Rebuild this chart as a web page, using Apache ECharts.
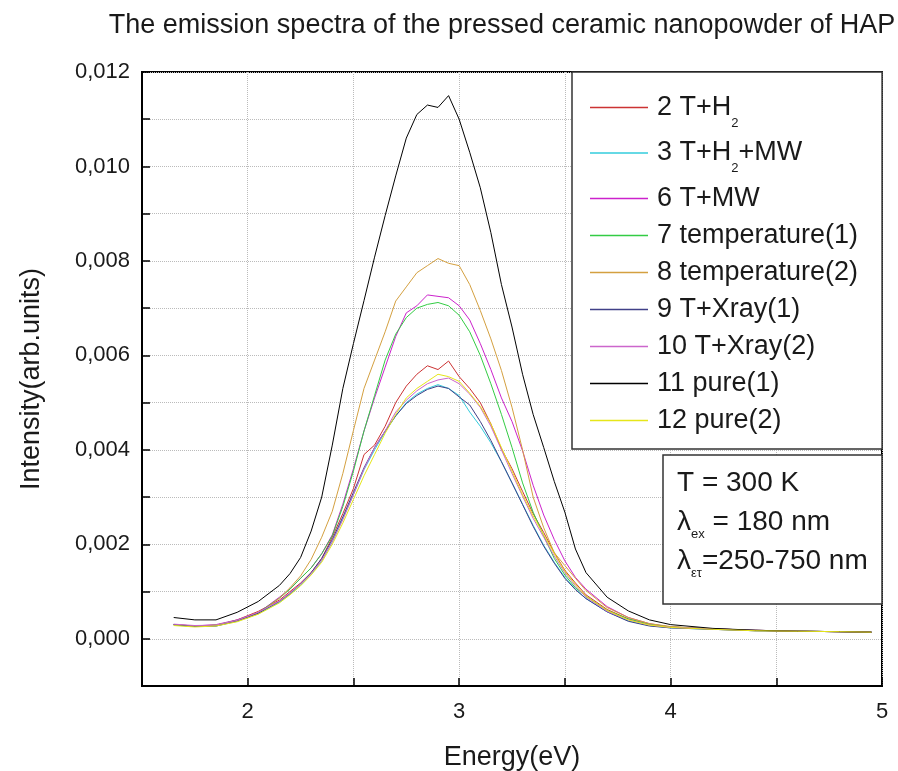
<!DOCTYPE html>
<html>
<head>
<meta charset="utf-8">
<script src="https://cdn.jsdelivr.net/npm/echarts@6/dist/echarts.min.js"></script>
<style>html,body{margin:0;padding:0;background:#fff}#c{width:898px;height:771px}</style>
</head>
<body>
<div id="c"></div>
<script>
const energy = [1.65,1.75,1.85,1.95,2.05,2.15,2.2,2.25,2.3,2.35,2.4,2.45,2.5,2.55,2.6,2.65,2.7,2.75,2.8,2.85,2.9,2.95,3.0,3.05,3.1,3.15,3.2,3.25,3.3,3.35,3.4,3.45,3.5,3.55,3.6,3.7,3.8,3.9,4.0,4.2,4.4,4.6,4.8,4.95];

const s2_TH2 = [0.00030,0.00027,0.00028,0.00040,0.00058,0.00082,0.00100,0.00118,0.00140,0.00170,0.00215,0.00265,0.00318,0.00390,0.00410,0.00450,0.00500,0.00535,0.00560,0.00578,0.00570,0.00588,0.00555,0.00530,0.00500,0.00455,0.00402,0.00360,0.00312,0.00265,0.00225,0.00182,0.00145,0.00118,0.00093,0.00062,0.00042,0.00030,0.00025,0.00021,0.00018,0.00016,0.00015,0.00014];
const s3_TH2MW = [0.00029,0.00026,0.00027,0.00037,0.00053,0.00077,0.00094,0.00113,0.00136,0.00165,0.00205,0.00255,0.00305,0.00358,0.00400,0.00438,0.00472,0.00500,0.00518,0.00530,0.00538,0.00530,0.00515,0.00480,0.00450,0.00415,0.00375,0.00330,0.00285,0.00240,0.00198,0.00162,0.00130,0.00105,0.00085,0.00057,0.00038,0.00028,0.00023,0.00020,0.00017,0.00016,0.00015,0.00014];
const s6_TMW = [0.00030,0.00027,0.00030,0.00040,0.00055,0.00088,0.00106,0.00128,0.00150,0.00180,0.00220,0.00285,0.00360,0.00440,0.00510,0.00575,0.00640,0.00690,0.00705,0.00728,0.00725,0.00722,0.00705,0.00675,0.00625,0.00570,0.00510,0.00460,0.00398,0.00325,0.00262,0.00210,0.00165,0.00130,0.00105,0.00068,0.00045,0.00032,0.00025,0.00021,0.00018,0.00016,0.00015,0.00014];
const s7_temp1 = [0.00030,0.00026,0.00029,0.00039,0.00055,0.00086,0.00105,0.00128,0.00150,0.00180,0.00218,0.00280,0.00355,0.00440,0.00515,0.00590,0.00645,0.00680,0.00700,0.00708,0.00712,0.00705,0.00685,0.00650,0.00600,0.00540,0.00475,0.00405,0.00330,0.00268,0.00218,0.00170,0.00135,0.00108,0.00090,0.00060,0.00042,0.00031,0.00025,0.00021,0.00018,0.00016,0.00015,0.00014];
const s8_temp2 = [0.00030,0.00027,0.00029,0.00038,0.00053,0.00086,0.00108,0.00133,0.00168,0.00215,0.00270,0.00350,0.00441,0.00530,0.00590,0.00650,0.00715,0.00745,0.00775,0.00790,0.00805,0.00795,0.00790,0.00750,0.00695,0.00635,0.00568,0.00490,0.00400,0.00300,0.00235,0.00182,0.00155,0.00128,0.00102,0.00066,0.00045,0.00032,0.00026,0.00020,0.00017,0.00016,0.00015,0.00014];
const s9_Xray1 = [0.00030,0.00026,0.00027,0.00038,0.00054,0.00079,0.00096,0.00116,0.00140,0.00170,0.00210,0.00258,0.00310,0.00362,0.00405,0.00440,0.00472,0.00498,0.00515,0.00528,0.00535,0.00530,0.00512,0.00495,0.00460,0.00420,0.00375,0.00330,0.00284,0.00238,0.00196,0.00160,0.00128,0.00104,0.00085,0.00057,0.00037,0.00027,0.00023,0.00020,0.00017,0.00016,0.00015,0.00014];
const s10_Xray2 = [0.00031,0.00028,0.00029,0.00039,0.00056,0.00080,0.00097,0.00116,0.00138,0.00166,0.00205,0.00252,0.00305,0.00360,0.00405,0.00440,0.00480,0.00505,0.00525,0.00540,0.00548,0.00552,0.00540,0.00518,0.00490,0.00450,0.00400,0.00350,0.00302,0.00255,0.00215,0.00175,0.00140,0.00112,0.00088,0.00058,0.00040,0.00029,0.00024,0.00021,0.00018,0.00016,0.00015,0.00014];
const s11_pure1 = [0.00045,0.00040,0.00040,0.00056,0.00079,0.00113,0.00138,0.00172,0.00228,0.00300,0.00410,0.00530,0.00625,0.00716,0.00808,0.00896,0.00980,0.01060,0.01110,0.01130,0.01125,0.01150,0.01100,0.01030,0.00955,0.00860,0.00750,0.00660,0.00560,0.00475,0.00405,0.00333,0.00268,0.00190,0.00140,0.00088,0.00059,0.00040,0.00030,0.00022,0.00018,0.00016,0.00015,0.00014];
const s12_pure2 = [0.00028,0.00025,0.00027,0.00036,0.00052,0.00076,0.00093,0.00112,0.00135,0.00162,0.00200,0.00245,0.00295,0.00345,0.00390,0.00435,0.00475,0.00510,0.00530,0.00545,0.00560,0.00555,0.00545,0.00520,0.00492,0.00455,0.00405,0.00355,0.00305,0.00260,0.00220,0.00180,0.00143,0.00115,0.00090,0.00060,0.00040,0.00029,0.00024,0.00020,0.00017,0.00016,0.00015,0.00014];

const seriesNames = ['2 T+H2','3 T+H2+MW','6 T+MW','7 temperature(1)','8 temperature(2)','9 T+Xray(1)','10 T+Xray(2)','11 pure(1)','12 pure(2)'];
const seriesValues = [s2_TH2,s3_TH2MW,s6_TMW,s7_temp1,s8_temp2,s9_Xray1,s10_Xray2,s11_pure1,s12_pure2];
const seriesColors = ['#CC3333','#33CCDD','#CC22CC','#33CC44','#D4A040','#404088','#CC66CC','#000000','#E6E61A'];

const titleText = 'The emission spectra of the pressed ceramic nanopowder of HAP';
const xName = 'Energy(eV)';
const yName = 'Intensity(arb.units)';
const noteLines = ['T = 300 K','λ{s|ex} = 180 nm','λ{s|ετ}=250-750 nm'];

const FONT = '"Liberation Sans", Arial, sans-serif';
const TXT = '#1a1a1a';

const chart = echarts.init(document.getElementById('c'), null, {renderer:'canvas'});

const series = seriesNames.map((n,i)=>({
  name:n, type:'line', symbol:'none', showSymbol:false, color:seriesColors[i],
  lineStyle:{width:1, color:seriesColors[i]}, itemStyle:{color:seriesColors[i]},
  emphasis:{disabled:true},
  data: energy.map((e,j)=>[e, seriesValues[i][j]])
}));

chart.setOption({
  animation:false,
  backgroundColor:'#fff',
  title:{text:titleText, left:497, top:7, textAlign:'center',
    textStyle:{fontFamily:FONT, fontSize:27, fontWeight:'normal', color:TXT}},
  grid:{left:142, right:16, top:72, bottom:85, outerBoundsMode:'none', containLabel:false,
    show:true, borderColor:'#000', borderWidth:2, backgroundColor:'transparent'},
  xAxis:{type:'value', min:1.5, max:5, interval:0.5,
    name:xName, nameLocation:'middle', nameGap:58,
    nameTextStyle:{fontFamily:FONT, fontSize:27, color:TXT},
    axisLine:{onZero:false, lineStyle:{color:'#000', width:2}},
    axisTick:{inside:true, length:8, lineStyle:{color:'#000', width:1.5}},
    axisLabel:{fontFamily:FONT, fontSize:22, color:TXT, margin:15,
      formatter:v=> Math.abs(v-Math.round(v))<1e-9 ? String(Math.round(v)) : ''},
    splitLine:{show:true, lineStyle:{color:'#bbb', type:'dotted', width:1}}},
  yAxis:{type:'value', min:-0.001, max:0.012, interval:0.001,
    name:yName, nameLocation:'middle', nameGap:97,
    nameTextStyle:{fontFamily:FONT, fontSize:27, color:TXT},
    axisLine:{onZero:false, lineStyle:{color:'#000', width:2}},
    axisTick:{inside:true, length:8, lineStyle:{color:'#000', width:1.5}},
    axisLabel:{fontFamily:FONT, fontSize:22, color:TXT, margin:12,
      formatter:v=>{const k=Math.round(v*1000); if(k%2!==0) return ''; return Math.abs(v).toFixed(3).replace('.',',');}},
    splitLine:{show:true, lineStyle:{color:'#bbb', type:'dotted', width:1}}},
  legend:{orient:'vertical', left:572, top:72, itemWidth:58, itemHeight:1.5, itemGap:10,
    padding:[22,24,15,18], borderColor:'#333', borderWidth:1.5, backgroundColor:'#fff',
    selectedMode:false, icon:'rect',
    data: seriesNames.map((n,i)=>({name:n, icon:'rect', itemStyle:{color:seriesColors[i], borderWidth:0}})),
    formatter:n=> n.replace('H2','H{sub|2}'),
    textStyle:{fontFamily:FONT, fontSize:27, color:TXT, padding:[0,0,0,4],
      rich:{sub:{fontFamily:FONT, fontSize:13, color:TXT, padding:[31,0,0,0]}}}},
  graphic:[
    {type:'rect', shape:{x:663, y:455, width:219, height:149}, style:{fill:'#fff', stroke:'#333', lineWidth:1.5}, z:100},
    ...noteLines.map((t,i)=>({type:'text', x:677, y:483+i*39, z:101,
      style:{text:t, fontFamily:FONT, fontSize:28, fill:TXT, textAlign:'left', textVerticalAlign:'middle',
        rich:{s:{fontFamily:FONT, fontSize:13, fill:TXT, padding:[24,0,0,0]}}}}))
  ],
  series
});
</script>
</body>
</html>
